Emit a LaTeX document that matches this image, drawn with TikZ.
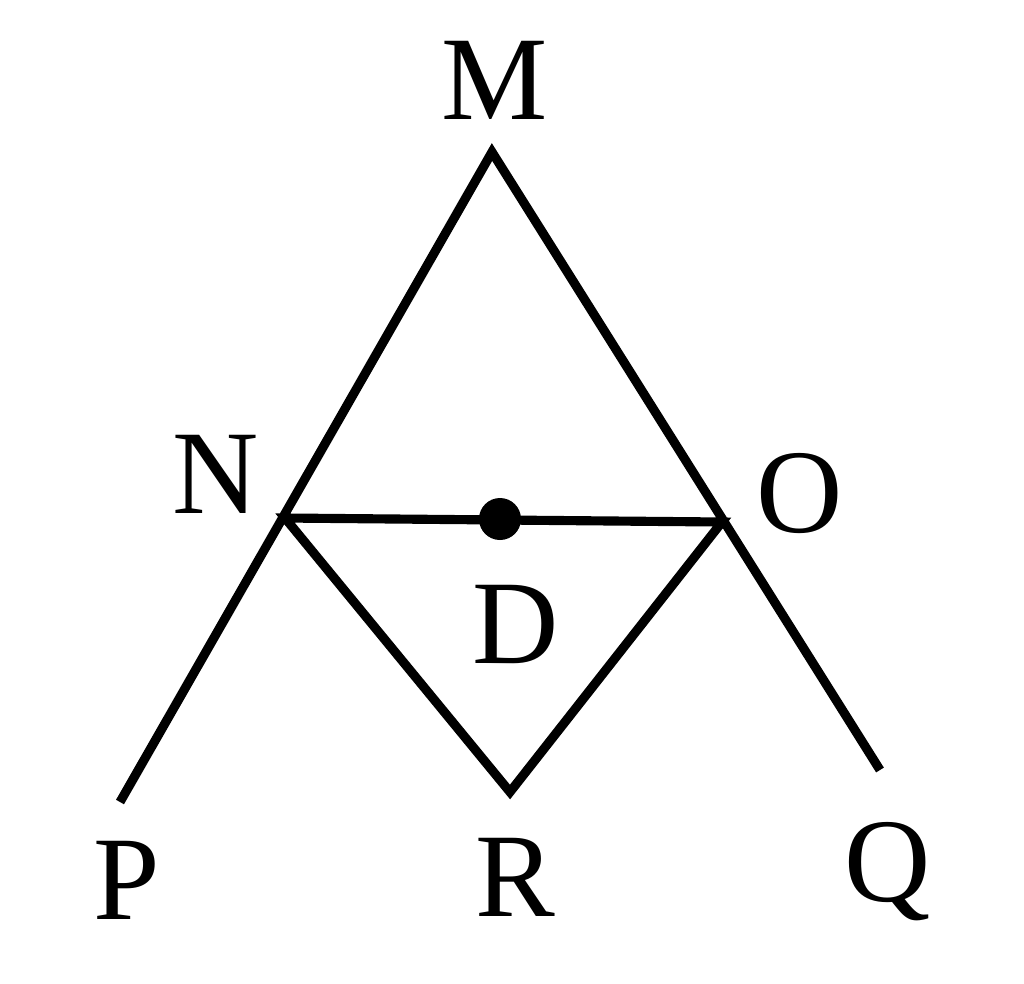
\documentclass[tikz,border=0pt]{standalone}
\usepackage{fontspec}
\newfontfamily\lblfont{LiberationSerif}[Extension=.ttf, UprightFont=*-Regular]
\usetikzlibrary{calc, positioning}

\begin{document}
\begin{tikzpicture}[y=-1cm, line width=2.6pt, lbl/.style={inner sep=0pt, font=\lblfont\fontsize{34}{36}\selectfont}]
                    \useasboundingbox (0, 0) rectangle (10.24, 9.83);

                    \coordinate (M) at (4.92, 1.52);
                    \coordinate (N) at (2.85, 5.18);
                    \coordinate (O) at (7.22, 5.22);
                    \coordinate (P) at (1.20, 8.02);
                    \coordinate (Q) at (8.80, 7.70);
                    \coordinate (R) at (5.10, 7.92);
                    \coordinate (D) at (5.00, 5.19);

                    \node[lbl] (lM) at (4.95, 0.80) {M};
                    \node[lbl] (lN) at (2.16, 4.74) {N};
                    \node[lbl] (lO) at (8.00, 4.94) {O};
                    \node[lbl] (lD) at (5.16, 6.24) {D};
                    \node[lbl] (lP) at (1.27, 8.80) {P};
                    \node[lbl] (lR) at (5.15, 8.77) {R};
                    \node[lbl] (lQ) at (8.88, 8.72) {Q};

                    \draw
                    (P) -- (M) -- (Q)
                    (N) -- (O) -- (R) -- cycle;
                    \fill (D) circle (0.21);
                \end{tikzpicture}
\end{document}
